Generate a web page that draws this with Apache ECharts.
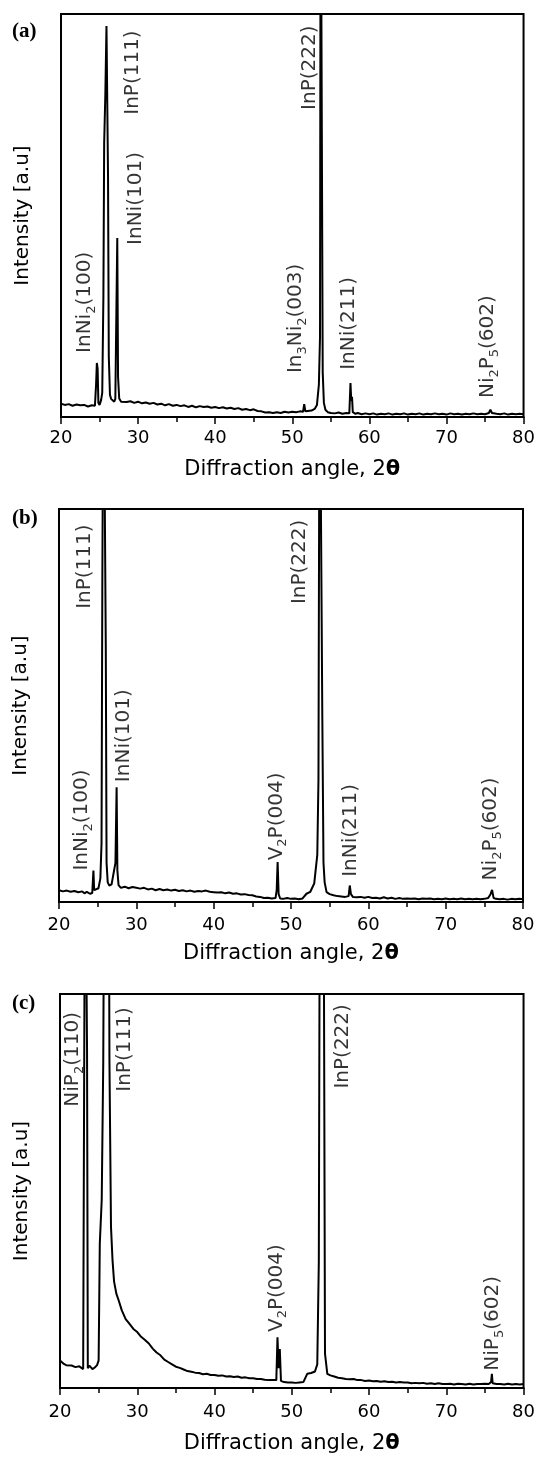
<!DOCTYPE html>
<html>
<head>
<meta charset="utf-8">
<script src="https://cdn.jsdelivr.net/npm/echarts@6/dist/echarts.min.js"></script>
<style>
html,body{margin:0;padding:0;background:#fff;}
#chart{width:538px;height:1459px;}
</style>
</head>
<body>
<div id="chart"></div>
<script>
// ---- data ----
const xTicks = [20, 30, 40, 50, 60, 70, 80];
const panelTags = ['(a)', '(b)', '(c)'];
const xTitle = 'Diffraction angle, 2{t|θ}';
const yTitle = 'Intensity [a.u]';

// panel (a): [2θ, intensity] (intensity 0..100 = plot height, higher values leave the frame)
const curveA = [
[20.0,3.3],[20.5,3.0],[21.0,3.2],[21.5,2.8],[22.0,3.1],[22.5,2.9],[23.0,3.0],[23.5,2.6],[24.0,2.9],[24.4,2.8],
[24.55,8],[24.65,13.4],[24.75,12],[24.85,3.5],[25.0,3.0],[25.2,4.2],[25.35,6],[25.5,30],[25.6,68],[25.75,80],
[25.9,97],[26.0,97],[26.1,60],[26.2,15],[26.35,5.5],[26.5,4.5],[26.7,4.8],[26.9,3.8],[27.05,4.5],[27.15,20.8],
[27.3,44.4],[27.4,10],[27.55,4.6],[27.8,3.8],[28.0,4.2],[28.5,3.7],[29.0,3.9],[29.5,3.5],[30.0,3.8],[30.5,3.4],
[31.0,3.6],[31.5,3.3],[32.0,3.5],[32.5,3.1],[33.0,3.3],[33.5,2.9],[34.0,3.2],[34.5,2.8],[35.0,3.0],[35.5,2.7],
[36.0,2.9],[36.5,2.5],[37.0,2.8],[37.5,2.4],[38.0,2.7],[38.5,2.5],[39.0,2.6],[39.5,2.3],[40.0,2.5],[40.5,2.2],
[41.0,2.4],[41.5,2.1],[42.0,2.3],[42.5,2.0],[43.0,2.2],[43.5,1.8],[44.0,2.0],[44.5,1.7],[45.0,1.9],[45.5,1.5],
[46.0,1.4],[46.5,1.1],[47.0,1.2],[47.5,1.0],[48.0,1.2],[48.5,1.0],[49.0,1.3],[49.5,1.1],[50.0,1.3],[50.5,1.2],
[51.0,1.4],[51.4,1.3],[51.55,3.2],[51.7,1.4],[52.0,1.5],[52.5,1.6],[52.9,2.0],[53.2,3.0],[53.45,8],[53.6,20],
[53.68,150],[53.85,150],[53.95,11],[54.1,3.5],[54.3,1.8],[54.6,1.2],[55.0,1.0],[55.5,0.9],[56.0,1.1],[56.5,0.8],
[57.0,1.0],[57.4,0.9],[57.55,8.4],[57.65,4],[57.75,5],[57.85,1.2],[58.2,0.8],[58.5,1.0],[59.0,0.7],[59.5,0.9],
[60.0,0.7],[60.5,0.9],[61.0,0.6],[61.5,0.8],[62.0,0.7],[62.5,0.9],[63.0,0.6],[63.5,0.8],[64.0,0.7],[64.5,0.9],
[65.0,0.6],[65.5,0.8],[66.0,0.7],[66.5,0.9],[67.0,0.6],[67.5,0.8],[68.0,0.7],[68.5,0.9],[69.0,0.7],[69.5,0.8],
[70.0,0.6],[70.5,0.9],[71.0,0.7],[71.5,0.8],[72.0,0.6],[72.5,0.8],[73.0,0.7],[73.5,0.9],[74.0,0.7],[74.5,0.8],
[75.0,0.7],[75.5,1.0],[75.7,1.8],[75.9,1.0],[76.5,0.8],[77.0,0.7],[77.5,0.9],[78.0,0.6],[78.5,0.8],[79.0,0.7],
[79.5,0.8],[80.0,0.7]
];
const peakNamesA = ['InNi{s|2}(100)', 'InP(111)', 'InNi(101)', 'In{s|3}Ni{s|2}(003)', 'InP(222)', 'InNi(211)', 'Ni{s|2}P{s|5}(602)'];
const peakLabelAtA = [[23.1,15.9],[29.3,75],[29.7,42.7],[50.5,10.9],[52.3,76.2],[57.3,11.7],[75.4,4.7]];

// panel (b)
const curveB = [
[20.0,3.0],[20.5,2.7],[21.0,2.9],[21.5,2.6],[22.0,2.8],[22.5,2.5],[23.0,2.7],[23.3,2.2],[23.6,2.6],[24.0,2.1],
[24.3,2.3],[24.45,8],[24.55,3],[24.8,2.8],[25.1,3.5],[25.35,6],[25.5,15],[25.6,79],[25.75,150],[25.95,150],
[26.05,65],[26.15,10],[26.3,5],[26.5,4.2],[26.8,4.5],[27.0,4.0],[27.3,10],[27.45,29.2],[27.55,8],[27.7,4.3],
[28.0,3.6],[28.5,3.9],[29.0,3.5],[29.5,3.8],[30.0,3.6],[30.5,3.4],[31.0,3.6],[31.5,3.2],[32.0,3.4],[32.5,3.0],
[33.0,3.3],[33.5,3.0],[34.0,3.2],[34.5,2.9],[35.0,3.1],[35.5,2.8],[36.0,3.0],[36.5,2.7],[37.0,2.9],[37.5,2.6],
[38.0,2.8],[38.5,2.7],[39.0,2.9],[39.5,2.6],[40.0,2.5],[40.5,2.4],[41.0,2.5],[41.5,2.2],[42.0,2.4],[42.5,2.1],
[43.0,2.2],[43.5,1.9],[44.0,2.0],[44.5,1.8],[45.0,1.7],[45.5,1.4],[46.0,1.3],[46.5,1.0],[47.0,1.1],[47.5,0.9],
[48.0,1.0],[48.15,3],[48.27,10.2],[48.4,2],[48.6,0.9],[49.0,0.8],[49.5,1.0],[50.0,0.8],[50.5,0.9],[51.0,0.7],
[51.5,0.9],[52.0,2.1],[52.5,2.6],[53.0,4.7],[53.4,12],[53.55,31],[53.7,150],[53.95,150],[54.05,47],[54.2,10],
[54.35,5],[54.6,2.5],[55.0,2.0],[55.5,1.7],[56.0,1.5],[56.5,1.4],[57.0,1.3],[57.45,1.5],[57.6,4.2],[57.75,2],
[58.0,1.3],[58.5,1.2],[59.0,1.3],[59.5,1.1],[60.0,1.3],[60.5,1.0],[61.0,1.1],[61.5,0.9],[62.0,1.2],[62.5,0.9],
[63.0,1.1],[63.5,0.8],[64.0,1.0],[64.5,0.8],[65.0,0.9],[65.5,0.8],[66.0,0.9],[66.5,0.7],[67.0,0.9],[67.5,0.8],
[68.0,0.9],[68.5,0.7],[69.0,0.8],[69.5,0.7],[70.0,0.9],[70.5,0.7],[71.0,0.8],[71.5,0.7],[72.0,0.9],[72.5,0.7],
[73.0,0.8],[73.5,0.7],[74.0,0.8],[74.5,0.7],[75.0,0.8],[75.5,1.0],[75.8,2.0],[76.0,3.1],[76.2,1.0],[76.5,0.8],
[77.0,0.7],[77.5,0.8],[78.0,0.6],[78.5,0.8],[79.0,0.7],[79.5,0.8],[80.0,0.7]
];
const peakNamesB = ['InNi{s|2}(100)', 'InP(111)', 'InNi(101)', 'V{s|2}P(004)', 'InP(222)', 'InNi(211)', 'Ni{s|2}P{s|5}(602)'];
const peakLabelAtB = [[23.0,8],[23.3,74.6],[28.4,30.5],[48.1,10.6],[51.1,75.8],[57.7,6.4],[75.9,5.5]];

// panel (c)
const curveC = [
[20.0,7.0],[20.2,6.5],[20.5,6.1],[20.8,5.8],[21.0,5.5],[21.5,5.7],[22.0,5.3],[22.5,5.5],[23.0,4.8],[23.15,5],
[23.25,150],[23.4,150],[23.5,86],[23.6,5],[23.8,5.7],[24.0,5.4],[24.2,4.8],[24.5,5.2],[24.8,5.8],[25.0,7],
[25.15,36.6],[25.4,47.7],[25.6,83],[25.75,150],[26.3,150],[26.4,83],[26.6,40.9],[26.8,32.4],[27.0,27],[27.3,23.9],
[27.6,22.2],[28.0,19.7],[28.5,17.5],[29.0,16.3],[29.5,15.0],[30.0,14.2],[30.5,13.0],[31.0,12.2],[31.5,11.3],[32.0,10.0],
[32.5,9.0],[33.0,8.3],[33.5,7.2],[34.0,6.6],[34.5,6.0],[35.0,5.4],[35.5,5.1],[36.0,4.7],[36.5,4.3],[37.0,4.1],
[37.5,3.9],[38.0,3.8],[38.5,3.5],[39.0,3.6],[39.5,3.3],[40.0,3.3],[40.5,3.1],[41.0,3.2],[41.5,2.9],[42.0,3.0],
[42.5,2.8],[43.0,2.9],[43.5,2.6],[44.0,2.7],[44.5,2.5],[45.0,2.5],[45.5,2.3],[46.0,2.3],[46.5,2.1],[47.0,2.0],
[47.5,2.0],[48.0,2.0],[48.15,12.9],[48.3,5],[48.45,9.9],[48.6,1.8],[49.0,1.5],[49.5,1.4],[50.0,1.4],[50.5,1.3],
[51.0,1.4],[51.5,1.5],[52.0,3.6],[52.5,3.8],[53.0,4.2],[53.3,6],[53.5,32],[53.65,150],[54.1,150],[54.3,8.7],
[54.6,3.6],[55.0,3.2],[55.5,2.9],[56.0,2.6],[56.5,2.5],[57.0,2.3],[57.5,2.2],[58.0,2.3],[58.5,2.0],[59.0,2.0],
[59.5,1.8],[60.0,1.9],[60.5,1.7],[61.0,1.8],[61.5,1.6],[62.0,1.7],[62.5,1.5],[63.0,1.6],[63.5,1.4],[64.0,1.5],
[64.5,1.4],[65.0,1.4],[65.5,1.2],[66.0,1.3],[66.5,1.2],[67.0,1.3],[67.5,1.1],[68.0,1.2],[68.5,1.0],[69.0,1.2],
[69.5,1.0],[70.0,1.0],[70.5,1.1],[71.0,0.9],[71.5,1.1],[72.0,1.0],[72.5,0.9],[73.0,1.1],[73.5,0.9],[74.0,1.0],
[74.5,1.0],[75.0,1.1],[75.5,1.0],[75.8,1.5],[75.9,3.6],[76.0,1.2],[76.5,1.0],[77.0,1.0],[77.5,0.9],[78.0,1.1],
[78.5,0.9],[79.0,1.0],[79.5,0.9],[80.0,1.0]
];
const peakNamesC = ['NiP{s|2}(110)', 'InP(111)', 'V{s|2}P(004)', 'InP(222)', 'NiP{s|5}(602)'];
const peakLabelAtC = [[21.7,71.4],[28.35,75.2],[48.0,14.2],[56.6,76],[76.0,4.4]];

// ---- layout / style ----
const FONT = 'DejaVu Sans';
const grids = [
  {left: 61, top: 14, width: 465, height: 403},
  {left: 59, top: 509, width: 464, height: 393},
  {left: 60, top: 994, width: 466, height: 394}
];
const labelMargins = [12, 14, 15];
const nameGaps = [42, 41, 45];
const tagTops = [21, 508, 993];
const curves = [curveA, curveB, curveC];
const names = [peakNamesA, peakNamesB, peakNamesC];
const nameAt = [peakLabelAtA, peakLabelAtB, peakLabelAtC];

const option = {
  backgroundColor: '#fff',
  animation: false,
  grid: grids.map(g => Object.assign({show: true, borderColor: '#000', borderWidth: 2, backgroundColor: 'transparent'}, g)),
  xAxis: grids.map((g, i) => ({
    gridIndex: i, type: 'value', min: xTicks[0], max: xTicks[xTicks.length - 1], interval: xTicks[1] - xTicks[0],
    axisLine: {show: true, onZero: false, lineStyle: {color: '#000', width: 2}},
    axisTick: {show: true, inside: false, length: 7, lineStyle: {color: '#000', width: 1.5}},
    minorTick: {show: true, splitNumber: 2, length: 5, lineStyle: {color: '#000', width: 1.5}},
    splitLine: {show: false},
    axisLabel: {show: true, margin: labelMargins[i], fontFamily: FONT, fontSize: 18, color: '#000'},
    name: xTitle, nameLocation: 'middle', nameGap: nameGaps[i],
    nameTextStyle: {fontFamily: FONT, fontSize: 21, color: '#000',
      rich: {t: {fontFamily: FONT, fontSize: 21, fontWeight: 'bold', color: '#000'}}}
  })),
  yAxis: grids.map((g, i) => ({
    gridIndex: i, type: 'value', min: 0, max: 100,
    axisLine: {show: true, lineStyle: {color: '#000', width: 2}},
    axisTick: {show: false}, axisLabel: {show: false}, splitLine: {show: false},
    name: yTitle, nameLocation: 'middle', nameRotate: 90, nameGap: 28,
    nameTextStyle: {fontFamily: FONT, fontSize: 20, color: '#000'}
  })),
  graphic: panelTags.map((t, i) => ({
    type: 'text', left: 12, top: tagTops[i],
    style: {text: t, font: 'bold 21px "Liberation Serif"', fill: '#000'}
  })),
  series: []
};

curves.forEach((c, i) => {
  option.series.push({
    type: 'line', xAxisIndex: i, yAxisIndex: i, data: c,
    symbol: 'none', clip: true, z: 3,
    lineStyle: {color: '#000', width: 2}
  });
  option.series.push({
    type: 'scatter', xAxisIndex: i, yAxisIndex: i, clip: false, z: 5,
    symbol: 'circle', symbolSize: 1, itemStyle: {color: 'transparent'},
    silent: true,
    data: nameAt[i].map((p, k) => [p[0], p[1], names[i][k]]),
    label: {
      show: true, position: 'inside', rotate: 90, align: 'left', verticalAlign: 'middle',
      fontFamily: FONT, fontSize: 20, lineHeight: 20, color: '#000',
      formatter: p => p.value[2],
      rich: {s: {fontFamily: FONT, fontSize: 13, lineHeight: 26, verticalAlign: 'bottom', color: '#000'}}
    }
  });
});

const chart = echarts.init(document.getElementById('chart'), null, {renderer: 'canvas'});
chart.setOption(option);
</script>
</body>
</html>
